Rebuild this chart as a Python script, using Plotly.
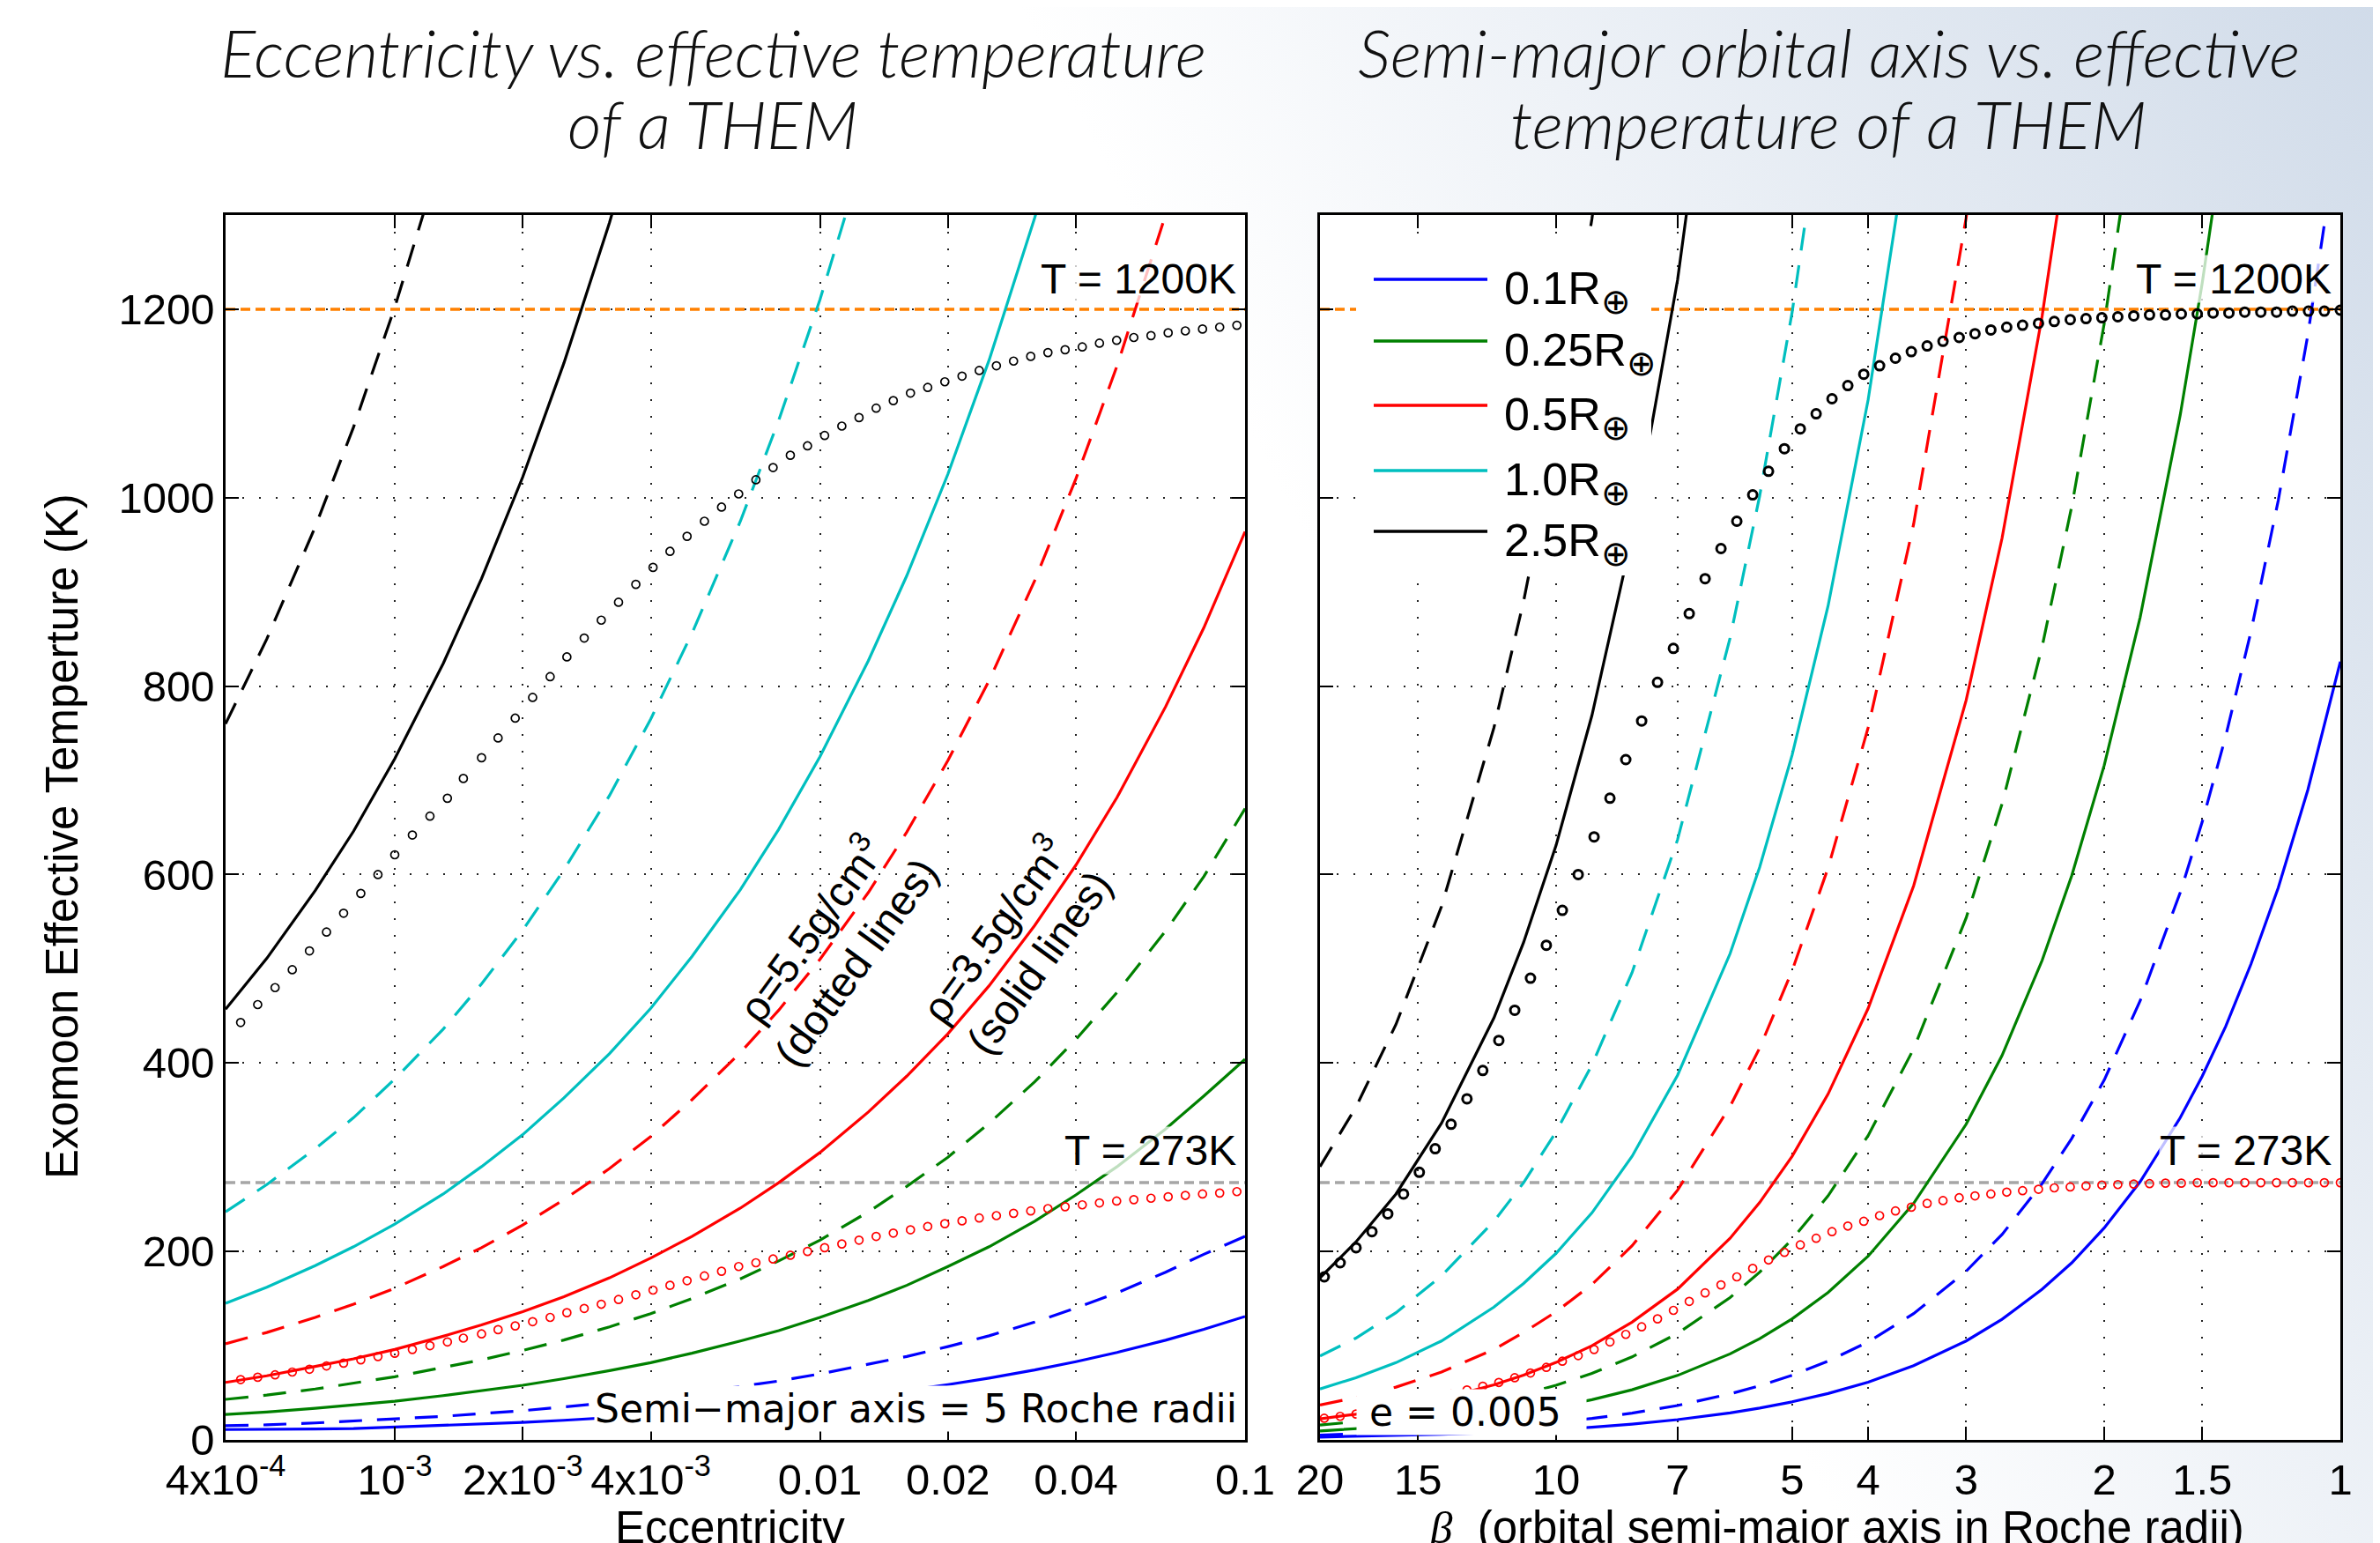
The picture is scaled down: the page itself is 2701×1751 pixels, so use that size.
import base64
import math
import plotly.graph_objects as go

# ------------------------------------------------------------------ data
# left panel: eccentricity grid for the curves (semi-major axis = 5 Roche radii)
ecc_line = [4e-4, 5e-4, 6.5e-4, 8e-4, 1e-3, 1.3e-3, 1.6e-3, 2e-3, 2.5e-3, 3.2e-3, 4e-3, 5e-3,
            6.5e-3, 8e-3, 0.01, 0.013, 0.016, 0.02, 0.025, 0.032, 0.04, 0.05, 0.065, 0.08, 0.1]
# rho = 3.5 g/cm3 (solid)
left_solid_01 = [11, 11, 11.5, 12, 13.5, 15, 16.6, 18.6, 20.8, 23.5, 26.3, 29.3, 33.5, 37.1, 41.5,
                 47.3, 52.5, 58.7, 65.6, 74.2, 83, 92.8, 105.8, 117.4, 131]
left_solid_025 = [27, 29.5, 33.5, 37, 41, 47, 52, 58, 65, 73.5, 82, 92, 105, 116, 130, 148, 164, 184,
                  205, 232, 260, 290, 330, 365, 404]
left_solid_05 = [61, 68, 78, 86, 96, 110, 122, 136, 152, 172, 193, 216, 246, 273, 305, 348, 386, 431,
                 482, 546, 610, 682, 778, 862, 964]
left_solid_10 = [145, 162, 185, 205, 229, 261, 290, 324, 363, 410, 458, 513, 584, 648, 725, 827, 917,
                 1025, 1146, 1297, 1450]
left_solid_25 = [457, 511, 583, 646, 723, 824, 914, 1022, 1143, 1292, 1445]
# rho = 5.5 g/cm3 (dashed)
left_dash_01 = [15, 16, 18, 20, 22, 25, 28, 31, 35, 39.5, 44, 49.5, 56.5, 62.5, 70, 80, 88.5, 99,
                110.5, 125, 140, 156, 178, 197, 216]
left_dash_025 = [43, 47.5, 54, 60, 67, 77, 85, 95, 106, 120, 134, 150, 171, 190, 212, 242, 269, 300,
                 336, 380, 425, 475, 540, 598, 670]
left_dash_05 = [102, 114, 130, 144, 161, 184, 204, 228, 255, 288, 322, 361, 411, 456, 510, 581, 645,
                721, 806, 912, 1020, 1140, 1300, 1442]
left_dash_10 = [242, 271, 309, 342, 383, 436, 484, 541, 605, 684, 765, 856, 975, 1082, 1210, 1380]
left_dash_25 = [760, 850, 969, 1075, 1202, 1370]

# left panel circles
ecc_dots = [4.34e-4, 4.76e-4, 5.23e-4, 5.74e-4, 6.30e-4, 6.91e-4, 7.58e-4, 8.32e-4, 9.13e-4, 1.00e-3,
            1.10e-3, 1.21e-3, 1.33e-3, 1.45e-3, 1.60e-3, 1.75e-3, 1.92e-3, 2.11e-3, 2.32e-3, 2.54e-3,
            2.79e-3, 3.06e-3, 3.36e-3, 3.69e-3, 4.05e-3, 4.44e-3, 4.87e-3, 5.35e-3, 5.87e-3, 6.44e-3,
            7.07e-3, 7.76e-3, 8.52e-3, 9.35e-3, 1.026e-2, 1.126e-2, 1.236e-2, 1.356e-2, 1.488e-2,
            1.633e-2, 1.793e-2, 1.967e-2, 2.159e-2, 2.370e-2, 2.601e-2, 2.854e-2, 3.132e-2, 3.438e-2,
            3.773e-2, 4.141e-2, 4.545e-2, 4.988e-2, 5.474e-2, 6.008e-2, 6.593e-2, 7.236e-2, 7.942e-2,
            8.716e-2, 9.566e-2]
left_dots_black = [443, 462, 480, 499, 519, 539, 559, 580, 600, 621, 642, 662, 681, 702, 724, 745,
                   766, 788, 810, 831, 851, 870, 889, 908, 926, 943, 959, 975, 990, 1004, 1019, 1032,
                   1045, 1055, 1066, 1076, 1085, 1095, 1103, 1111, 1117, 1123, 1129, 1135, 1140, 1145,
                   1150, 1154, 1157, 1160, 1164, 1167, 1170, 1172, 1175, 1177, 1179, 1181, 1183]
left_dots_red = [64, 66.5, 69, 72, 75, 78.5, 81.5, 85, 88.5, 92, 96, 100, 104, 108, 112.5, 117, 121,
                 125.5, 130, 135, 139.5, 144, 149, 154, 159, 164, 169, 174, 179, 184, 188, 192, 196,
                 200, 204, 208, 212, 216, 219.5, 223, 226.5, 229.5, 232.5, 235.5, 238, 240.5, 243,
                 245.5, 247.5, 249.5, 251.5, 253.5, 255, 256.5, 258, 259.5, 261, 262, 263.5]

# right panel: beta grid for the curves (e = 0.005)
beta_line = [20, 18, 16, 14, 12, 11, 10, 9, 8, 7, 6, 5.5, 5, 4.5, 4, 3.5, 3, 2.7, 2.4, 2.2, 2, 1.8,
             1.6, 1.5, 1.4, 1.3, 1.2, 1.1, 1.0]
right_solid_01 = [3.0, 3.66, 4.56, 5.86, 7.82, 9.2, 11, 13.4, 16.7, 21.5, 28.7, 33.8, 40.4, 49.2, 61.3,
                  78.8, 105, 128, 160, 188, 225, 274, 342, 386, 439, 505, 586, 690, 826]
right_solid_025 = [9.55, 11.6, 14.5, 18.6, 24.9, 29.3, 35, 42.7, 53.2, 68.4, 91.3, 107.5, 128.5, 156.5,
                   195, 251, 335, 408, 509, 599, 716, 873, 1088, 1228, 1398]
right_solid_05 = [22.4, 27.3, 34, 43.7, 58.4, 68.7, 82.2, 100, 125, 160, 214, 252, 301, 367, 458, 588,
                  785, 957, 1193, 1405]
right_solid_10 = [54, 66, 82, 105, 141, 166, 198, 241, 301, 387, 516, 608, 727, 885, 1104, 1418]
right_solid_25 = [172, 210, 261, 336, 448, 528, 631, 769, 959, 1231, 1644]
right_dash_01 = [5.1, 6.2, 7.75, 9.95, 13.3, 15.6, 18.7, 22.8, 28.4, 36.5, 48.8, 57.4, 68.6, 83.6, 104,
                 134, 179, 218, 272, 320, 382, 466, 581, 656, 747, 858, 997, 1173, 1404]
right_dash_025 = [15.8, 19.3, 24, 30.8, 41.2, 48.5, 58, 70.6, 88.1, 113, 151, 178, 213, 259, 323, 415,
                  554, 675, 842, 991, 1185, 1444]
right_dash_05 = [37, 45, 56, 72, 96, 114, 136, 165, 206, 265, 354, 416, 498, 607, 756, 972, 1297, 1581]
right_dash_10 = [89, 108, 135, 174, 232, 273, 327, 398, 496, 637, 851, 1002, 1197, 1459]
right_dash_25 = [290, 353, 441, 566, 756, 890, 1064, 1296, 1616]

# right panel circles
beta_dots = [19.75, 18.85, 17.99, 17.17, 16.39, 15.65, 14.94, 14.26, 13.61, 12.99, 12.40, 11.83, 11.29,
             10.78, 10.29, 9.817, 9.371, 8.944, 8.537, 8.149, 7.778, 7.424, 7.086, 6.764, 6.456, 6.162,
             5.882, 5.614, 5.359, 5.115, 4.882, 4.660, 4.448, 4.246, 4.052, 3.868, 3.692, 3.524, 3.364,
             3.211, 3.062, 2.923, 2.790, 2.663, 2.542, 2.426, 2.316, 2.210, 2.110, 2.014, 1.922, 1.834,
             1.751, 1.671, 1.595, 1.522, 1.453, 1.387, 1.324, 1.263, 1.206, 1.151, 1.098, 1.048, 1.000]
right_dots_black = [173, 188, 204, 221, 240, 261, 284, 309, 335, 362, 392, 424, 456, 490, 525, 562, 600,
                    640, 681, 722, 763, 804, 840, 877, 914, 946, 975, 1003, 1028, 1052, 1073, 1089, 1105,
                    1119, 1131, 1140, 1148, 1155, 1161, 1166, 1170, 1174, 1178, 1181, 1183, 1185, 1187,
                    1189, 1190, 1191, 1192, 1193, 1194, 1194, 1195, 1195, 1196, 1196, 1197, 1197, 1197,
                    1198, 1198, 1198, 1199]
right_dots_red = [23, 25, 27.5, 30, 33, 36.5, 40, 44, 48.5, 53, 57, 61, 66, 71, 77, 83.5, 89.5, 96, 104,
                  112, 120, 128.5, 137.5, 147, 156, 164.5, 173, 182, 191, 199, 207, 214, 221, 227, 232,
                  238, 243, 247, 251, 254, 257, 259, 261, 263, 264.5, 266, 267.5, 268.5, 269.5, 270.5,
                  271, 271.5, 272, 272.5, 272.5, 273, 273, 273, 273, 273, 273, 273, 273, 273, 273]

T_levels = [1200, 273]
radius_labels = ["0.1", "0.25", "0.5", "1.0", "2.5"]
radius_colors = ["#0000FF", "#008000", "#FF0000", "#00BFBF", "#000000"]

ecc_ticks = [4e-4, 1e-3, 2e-3, 4e-3, 0.01, 0.02, 0.04, 0.1]
ecc_ticktext = ["4x10<sup>-4</sup>", "10<sup>-3</sup>", "2x10<sup>-3</sup>", "4x10<sup>-3</sup>",
                "0.01", "0.02", "0.04", "0.1"]
beta_ticks = [20, 15, 10, 7, 5, 4, 3, 2, 1.5, 1]
beta_ticktext = ["20", "15", "10", "7", "5", "4", "3", "2", "1.5", "1"]
temp_ticks = [0, 200, 400, 600, 800, 1000, 1200]

# ------------------------------------------------------------------ figure
W, H = 2701, 1751
ML, MR, MT, MB = 248, 53, 236, 125
PW, PH = W - ML - MR, H - MT - MB


def px(X):
    return (X - ML) / PW


def py(Y):
    return (MT + PH - Y) / PH


SANS = "Liberation Sans, Arial, Helvetica, sans-serif"
fig = go.Figure()

DASH = "26px,17px"
REF_DASH = "11px,6px"

# reference temperature lines
for xa, ya, xs in (("x", "y", [ecc_ticks[0], ecc_ticks[-1]]), ("x2", "y2", [beta_ticks[0], beta_ticks[-1]])):
    fig.add_trace(go.Scatter(x=xs, y=[T_levels[0]] * 2, mode="lines", xaxis=xa, yaxis=ya,
                             line=dict(color="#FF8000", width=3.5, dash=REF_DASH), hoverinfo="skip"))
    fig.add_trace(go.Scatter(x=xs, y=[T_levels[1]] * 2, mode="lines", xaxis=xa, yaxis=ya,
                             line=dict(color="#A6A6A6", width=3.5, dash=REF_DASH), hoverinfo="skip"))

left_solid = [left_solid_01, left_solid_025, left_solid_05, left_solid_10, left_solid_25]
left_dash = [left_dash_01, left_dash_025, left_dash_05, left_dash_10, left_dash_25]
right_solid = [right_solid_01, right_solid_025, right_solid_05, right_solid_10, right_solid_25]
right_dash = [right_dash_01, right_dash_025, right_dash_05, right_dash_10, right_dash_25]

for col, ls, ld, rs, rd in zip(radius_colors, left_solid, left_dash, right_solid, right_dash):
    fig.add_trace(go.Scatter(x=ecc_line[:len(ls)], y=ls, mode="lines", xaxis="x", yaxis="y",
                             line=dict(color=col, width=3.2)))
    fig.add_trace(go.Scatter(x=ecc_line[:len(ld)], y=ld, mode="lines", xaxis="x", yaxis="y",
                             line=dict(color=col, width=3.2, dash=DASH)))
    fig.add_trace(go.Scatter(x=beta_line[:len(rs)], y=rs, mode="lines", xaxis="x2", yaxis="y2",
                             line=dict(color=col, width=3.2)))
    fig.add_trace(go.Scatter(x=beta_line[:len(rd)], y=rd, mode="lines", xaxis="x2", yaxis="y2",
                             line=dict(color=col, width=3.2, dash=DASH)))

# circles
fig.add_trace(go.Scatter(x=ecc_dots, y=left_dots_black, mode="markers", xaxis="x", yaxis="y",
                         marker=dict(symbol="circle-open", size=9, color="black", line=dict(width=1.7))))
fig.add_trace(go.Scatter(x=ecc_dots, y=left_dots_red, mode="markers", xaxis="x", yaxis="y",
                         marker=dict(symbol="circle-open", size=9, color="#FF0000", line=dict(width=1.7))))
fig.add_trace(go.Scatter(x=beta_dots, y=right_dots_black, mode="markers", xaxis="x2", yaxis="y2",
                         marker=dict(symbol="circle-open", size=10, color="black", line=dict(width=3))))
fig.add_trace(go.Scatter(x=beta_dots, y=right_dots_red, mode="markers", xaxis="x2", yaxis="y2",
                         marker=dict(symbol="circle-open", size=9, color="#FF0000", line=dict(width=1.7))))

axis_common = dict(showline=True, linecolor="black", linewidth=2.5, mirror="ticks", ticks="inside",
                   ticklen=15, tickwidth=2, tickcolor="black", showgrid=True, gridcolor="#222222",
                   gridwidth=1.5, griddash="2px,17px", zeroline=False,
                   tickfont=dict(family=SANS, size=49, color="black"))

fig.update_layout(
    width=W, height=H,
    margin=dict(l=ML, r=MR, t=MT, b=MB),
    paper_bgcolor="white", plot_bgcolor="white",
    showlegend=False,
    font=dict(family=SANS, color="black"),
    xaxis=dict(type="log", domain=[0, px(1405)], range=[math.log10(ecc_ticks[0]), math.log10(ecc_ticks[-1])],
               tickvals=ecc_ticks, ticktext=ecc_ticktext, anchor="y", **axis_common),
    yaxis=dict(range=[0, 1300], tickvals=temp_ticks, anchor="x", **axis_common),
    xaxis2=dict(type="log", domain=[px(1490), 1], range=[math.log10(beta_ticks[0]), math.log10(beta_ticks[-1])],
                tickvals=beta_ticks, ticktext=beta_ticktext, anchor="y2", **axis_common),
    yaxis2=dict(range=[0, 1300], tickvals=temp_ticks, anchor="x2", showticklabels=False, **axis_common),
)

# background gradient of the slide
svg = ('<svg xmlns="http://www.w3.org/2000/svg" width="2701" height="1751" viewBox="0 0 2701 1751">'
       '<defs><linearGradient id="g" gradientUnits="userSpaceOnUse" x1="1500" y1="650" x2="2701" y2="0">'
       '<stop offset="0" stop-color="#ffffff"/><stop offset="1" stop-color="#d0dbe9"/></linearGradient></defs>'
       '<rect width="2701" height="1751" fill="url(#g)"/></svg>')
fig.add_layout_image(dict(source="data:image/svg+xml;base64," + base64.b64encode(svg.encode()).decode(),
                          xref="paper", yref="paper", x=px(0), y=py(0), sizex=W / PW, sizey=H / PH,
                          xanchor="left", yanchor="top", sizing="stretch", layer="below"))

shapes = []
for xr, yr in (("x domain", "y domain"), ("x2 domain", "y2 domain")):
    shapes.append(dict(type="rect", xref=xr, yref=yr, x0=0, x1=1, y0=0, y1=1, fillcolor="white",
                       line=dict(width=0), layer="below"))
# legend box (right panel)
shapes.append(dict(type="rect", xref="paper", yref="paper", x0=px(1531), x1=px(1866), y0=py(645), y1=py(262),
                   fillcolor="white", line=dict(width=0), layer="above"))
leg_y = [309, 379, 452, 526, 595]
for col, Y in zip(radius_colors, leg_y):
    shapes.append(dict(type="line", xref="paper", yref="paper", x0=px(1551), x1=px(1680), y0=py(Y), y1=py(Y),
                       line=dict(color=col, width=3.5), layer="above"))
fig.update_layout(shapes=shapes)

ann = []
for lab, Y in zip(radius_labels, leg_y):
    ann.append(dict(text=f"{lab}R<sub><span style='font-size:40px'>⊕</span></sub>", xref="paper", yref="paper",
                    x=px(1697), y=py(Y + 14), xanchor="left", yanchor="middle", showarrow=False,
                    font=dict(family=SANS, size=52, color="black")))

TITLE_FONT = dict(family="Lato, sans-serif", size=75, color="#111111", weight=300)
title_lines = [("Eccentricity vs. effective temperature", 801, 51), ("of a THEM", 801, 132),
               ("Semi-major orbital axis vs. effective", 2067, 51), ("temperature of a THEM", 2067, 132)]
for txt, X, Y in title_lines:
    ann.append(dict(text=f"<i>{txt}</i>", xref="paper", yref="paper", x=px(X), y=py(Y),
                    xanchor="center", yanchor="middle", showarrow=False, font=TITLE_FONT))

AX_FONT = dict(family=SANS, size=51, color="black")
ann.append(dict(text="Exomoon Effective Temperture (K)", xref="paper", yref="paper", x=px(63), y=py(941),
                textangle=-90, xanchor="center", yanchor="middle", showarrow=False, font=AX_FONT))
ann.append(dict(text="Eccentricity", xref="paper", yref="paper", x=px(820), y=py(1725),
                xanchor="center", yanchor="middle", showarrow=False, font=AX_FONT))
ann.append(dict(text="<i><span style=\"font-family:'Liberation Serif', serif\">β</span></i>  (orbital semi-major axis in Roche radii)",
                xref="paper", yref="paper", x=px(2076), y=py(1725),
                xanchor="center", yanchor="middle", showarrow=False, font=AX_FONT))

LBL = dict(family=SANS, size=48, color="black")
for xr in ("x domain", "x2 domain"):
    yr = "y" if xr == "x domain" else "y2"
    ann.append(dict(text="T = 1200K", xref=xr, yref=yr, x=0.992, y=1232, xanchor="right", yanchor="middle",
                    showarrow=False, font=LBL, bgcolor="rgba(255,255,255,0.75)", borderpad=0))
    ann.append(dict(text="T = 273K", xref=xr, yref=yr, x=0.992, y=307, xanchor="right", yanchor="middle",
                    showarrow=False, font=LBL, bgcolor="rgba(255,255,255,0.75)", borderpad=0))

NOTE = dict(family="DejaVu Sans, sans-serif", size=44, color="black")
ann.append(dict(text="Semi\u2212major axis = 5 Roche radii", xref="x domain", yref="y", x=0.993, y=33,
                xanchor="right", yanchor="middle", showarrow=False, font=NOTE, bgcolor="white", borderpad=0))
ann.append(dict(text="\u00a0e = 0.005\u00a0\u00a0", xref="x2 domain", yref="y2", x=(1531 - 1490) / (2648 - 1490),
                y=29, xanchor="left", yanchor="middle", showarrow=False, font=NOTE, bgcolor="white", borderpad=0))

ROT = dict(family=SANS, size=48, color="black")
ann.append(dict(text="ρ=5.5g/cm<sup>3</sup><br>(dotted lines)", xref="paper", yref="paper", x=px(935), y=py(1064),
                textangle=-54, xanchor="center", yanchor="middle", showarrow=False, font=ROT))
ann.append(dict(text="ρ=3.5g/cm<sup>3</sup><br>(solid lines)", xref="paper", yref="paper", x=px(1143), y=py(1064),
                textangle=-54, xanchor="center", yanchor="middle", showarrow=False, font=ROT))

fig.update_layout(annotations=ann)
fig.write_html("out.html")
